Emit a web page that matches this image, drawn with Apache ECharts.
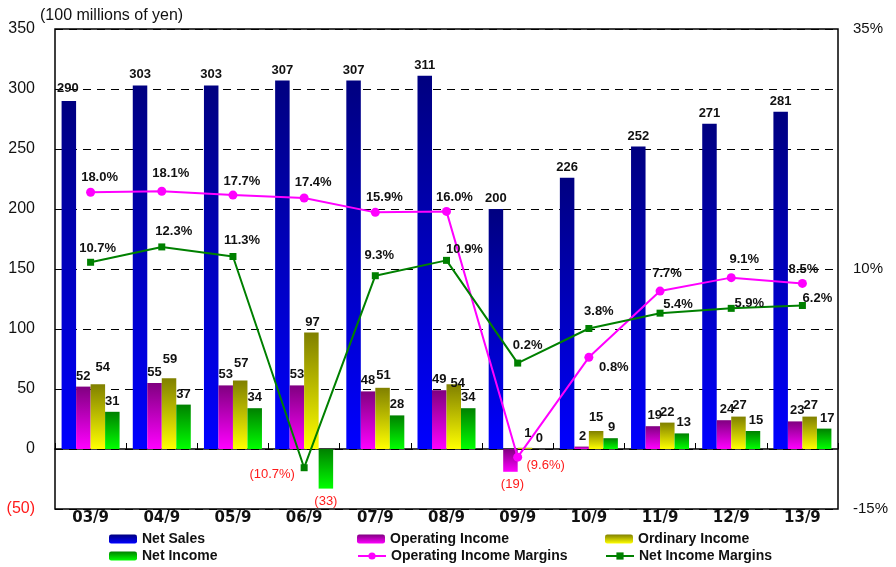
<!DOCTYPE html>
<html>
<head>
<meta charset="utf-8">
<script src="https://cdn.jsdelivr.net/npm/echarts@6/dist/echarts.min.js"></script>
<style>
  html, body { margin: 0; padding: 0; background: #fff; }
  #chart { width: 896px; height: 567px; }
</style>
</head>
<body>
<div id="chart"></div>
<script>
// Half-year results (September terms), in 100 millions of yen
const categories = ['03/9', '04/9', '05/9', '06/9', '07/9', '08/9', '09/9', '10/9', '11/9', '12/9', '13/9'];
const netSales = [290, 303, 303, 307, 307, 311, 200, 226, 252, 271, 281];
const operatingIncome = [52, 55, 53, 53, 48, 49, -19, 2, 19, 24, 23];
const ordinaryIncome = [54, 59, 57, 97, 51, 54, 1, 15, 22, 27, 27];
const netIncome = [31, 37, 34, -33, 28, 34, 0, 9, 13, 15, 17];
// Margins, in percent
const operatingMargins = [18.0, 18.1, 17.7, 17.4, 15.9, 16.0, -9.6, 0.8, 7.7, 9.1, 8.5];
const netMargins = [10.7, 12.3, 11.3, -10.7, 9.3, 10.9, 0.2, 3.8, 5.4, 5.9, 6.2];
const unitCaption = '(100 millions of yen)';

// Label nudges in pixels [dx, dy], to keep neighbouring labels apart
const salesNudge = [[-1, -2], [0, 0], [0, 0], [0, 0], [0, 0], [0, 0], [0, 0], [0, 0], [0, 0], [0, 0], [0, 0]];
const opNudge = [[0, 0], [0, 0], [0, 0], [0, 0], [0, 0], [0, 0], [2, 0], [1, 0], [2, 0], [3, 0], [2, 0]];
const ordNudge = [[5, -6], [1, -8], [1, -7], [1, 0], [1, -2], [4, 10], [3, -4], [0, -3], [0, 0], [1, -1], [1, -1]];
const netNudge = [[0, 0], [0, 0], [0, 0], [0, 0], [0, 0], [0, 0], [0, 0], [1, 0], [2, 0], [3, 0], [3, 0]];
const opMarginNudge = [[9, -15], [9, -18], [9, -14], [9, -16], [9, -15], [8, -14], [28, 8], [25, 10], [7, -18], [13, -18], [1, -14]];
const netMarginNudge = [[7, -14], [12, -15], [9, -16], [-32, 7], [4, -20], [18, -11], [10, -18], [10, -17], [18, -9], [18, -5], [15, -7]];

const SANS = '"Liberation Sans", Arial, sans-serif';
const RED = '#ff1a1a';

function grad(top, bottom) {
  return new echarts.graphic.LinearGradient(0, 0, 0, 1, [
    { offset: 0, color: top },
    { offset: 1, color: bottom }
  ]);
}

function amount(v) {
  return v < 0 ? '(' + Math.abs(v) + ')' : String(v);
}
function pct(v) {
  return v < 0 ? '(' + Math.abs(v).toFixed(1) + '%)' : v.toFixed(1) + '%';
}

function barItems(values, nudges) {
  return values.map((v, i) => ({
    value: v,
    label: v < 0
      ? { position: 'bottom', distance: 6, color: RED, fontWeight: 'normal', offset: nudges[i] }
      : { position: 'top', distance: 4, offset: nudges[i] }
  }));
}

function lineItems(values, nudges) {
  return values.map((v, i) => ({
    value: v,
    label: {
      position: 'inside',
      offset: nudges[i],
      color: v < 0 ? RED : '#111',
      fontWeight: v < 0 ? 'normal' : 'bold'
    }
  }));
}

const barLabel = {
  show: true,
  fontFamily: SANS,
  fontSize: 13,
  fontWeight: 'bold',
  color: '#111',
  formatter: p => amount(p.value)
};

const lineLabel = {
  show: true,
  fontFamily: SANS,
  fontSize: 13,
  formatter: p => pct(p.value)
};

function barSeries(name, values, nudges, top, bottom) {
  return {
    name: name,
    type: 'bar',
    xAxisIndex: 0,
    yAxisIndex: 0,
    barWidth: 14.5,
    barGap: '0%',
    itemStyle: { color: grad(top, bottom) },
    label: barLabel,
    data: barItems(values, nudges),
    z: 2
  };
}

const chart = echarts.init(document.getElementById('chart'), null, { renderer: 'canvas' });

const legendText = { fontFamily: SANS, fontSize: 14, fontWeight: 'bold', color: '#111' };
function legendAt(name, left, top) {
  return {
    data: [name],
    left: left,
    top: top,
    padding: 0,
    itemWidth: 28,
    itemHeight: 9,
    selectedMode: false,
    textStyle: legendText
  };
}

chart.setOption({
  animation: false,
  backgroundColor: '#fff',
  title: {
    text: unitCaption,
    left: 40,
    top: 8,
    padding: 0,
    textStyle: { fontFamily: SANS, fontSize: 16, fontWeight: 'normal', color: '#111' }
  },
  grid: {
    left: 55,
    right: 58,
    top: 29,
    bottom: 58,
    show: true,
    outerBoundsMode: 'none',
    containLabel: false,
    borderColor: '#000',
    borderWidth: 1.5,
    backgroundColor: 'transparent'
  },
  legend: [
    legendAt('Net Sales', 109, 532),
    legendAt('Operating Income', 357, 532),
    legendAt('Ordinary Income', 605, 532),
    legendAt('Net Income', 109, 549),
    legendAt('Operating Income Margins', 357, 549),
    legendAt('Net Income Margins', 605, 549)
  ],
  xAxis: [
    {
      type: 'category',
      data: categories,
      position: 'bottom',
      axisLine: { show: false, onZero: false },
      axisTick: { show: false },
      axisLabel: {
        fontFamily: '"DejaVu Sans", sans-serif',
        fontSize: 15,
        fontWeight: 'bold',
        color: '#111',
        margin: 2
      }
    },
    {
      // zero line with category separators
      type: 'category',
      data: categories,
      position: 'top',
      axisLine: { show: true, onZero: true, onZeroAxisIndex: 0, lineStyle: { color: '#000', width: 1.5 } },
      axisTick: { show: true, inside: false, length: 6, lineStyle: { color: '#000', width: 1 } },
      axisLabel: { show: false },
      splitLine: { show: false }
    }
  ],
  yAxis: [
    {
      type: 'value',
      min: -50,
      max: 350,
      interval: 50,
      axisLine: { show: false },
      axisTick: { show: false },
      axisLabel: {
        fontFamily: SANS,
        fontSize: 16,
        margin: 20,
        formatter: v => amount(v),
        color: v => (v < 0 ? RED : '#111')
      },
      splitLine: { show: true, lineStyle: { color: '#000', width: 1, type: [8, 6] } }
    },
    {
      type: 'value',
      min: -15,
      max: 35,
      interval: 25,
      position: 'right',
      axisLine: { show: false },
      axisTick: { show: false },
      axisLabel: { fontFamily: SANS, fontSize: 15, margin: 15, color: '#111', formatter: '{value}%' },
      splitLine: { show: false }
    }
  ],
  series: [
    barSeries('Net Sales', netSales, salesNudge, '#000080', '#0000ff'),
    barSeries('Operating Income', operatingIncome, opNudge, '#800080', '#ff00ff'),
    barSeries('Ordinary Income', ordinaryIncome, ordNudge, '#808000', '#ffff00'),
    barSeries('Net Income', netIncome, netNudge, '#008000', '#00ff00'),
    {
      name: 'Operating Income Margins',
      type: 'line',
      xAxisIndex: 0,
      yAxisIndex: 1,
      symbol: 'circle',
      symbolSize: 9,
      itemStyle: { color: '#ff00ff' },
      lineStyle: { color: '#ff00ff', width: 2 },
      label: lineLabel,
      data: lineItems(operatingMargins, opMarginNudge),
      z: 5
    },
    {
      name: 'Net Income Margins',
      type: 'line',
      xAxisIndex: 0,
      yAxisIndex: 1,
      symbol: 'rect',
      symbolSize: 7,
      itemStyle: { color: '#008000' },
      lineStyle: { color: '#008000', width: 2 },
      label: lineLabel,
      data: lineItems(netMargins, netMarginNudge),
      z: 5
    }
  ]
});
</script>
</body>
</html>
